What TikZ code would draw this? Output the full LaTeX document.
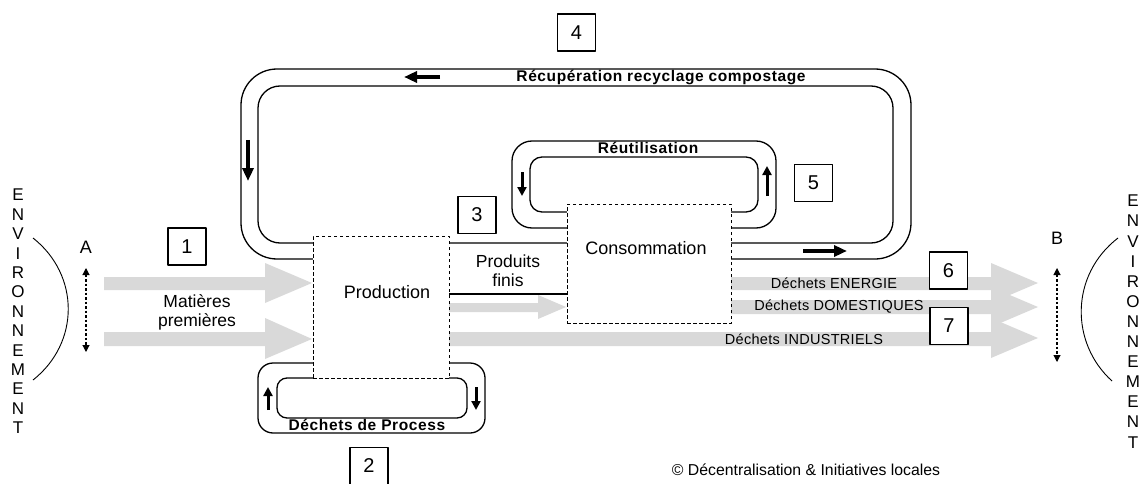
\documentclass[tikz,border=0pt]{standalone}
\usepackage{fontspec}
\setmainfont{Liberation Sans}
\usetikzlibrary{arrows.meta}
\definecolor{flowgray}{RGB}{217,217,217}
\begin{document}
\begin{tikzpicture}[x=1pt,y=-1pt,line join=round,
  loopline/.style={draw=black,line width=1.3pt},
  dashbox/.style={draw=black,fill=white,line width=1pt,dash pattern=on 3.5pt off 2.5pt,inner sep=0pt},
  numbox/.style={draw=black,fill=white,line width=1.1pt,minimum width=38pt,minimum height=37pt,inner sep=0pt,font=\fontsize{20}{22}\selectfont},
  bigflow/.style={line width=4pt,-{Triangle[length=13pt,width=11pt]}},
  smallflow/.style={line width=3pt,-{Triangle[length=9pt,width=9pt]}},
  dotarrow/.style={line width=1.1pt,dash pattern=on 2.5pt off 2pt,{Triangle[length=7pt,width=7pt]}-{Triangle[length=7pt,width=7pt]}},
  boldlbl/.style={inner sep=0pt,font=\fontsize{15.5}{17}\selectfont\bfseries\addfontfeature{LetterSpace=4}},
  wastelbl/.style={inner sep=0pt,font=\fontsize{14.5}{16}\selectfont\addfontfeature{LetterSpace=2}},
  mainlbl/.style={inner sep=0pt,font=\fontsize{18}{20}\selectfont},
  midlbl/.style={inner sep=0pt,font=\fontsize{17.5}{20}\selectfont},
  envtxt/.style={inner sep=0pt,font=\fontsize{17}{19}\selectfont},
  letterlbl/.style={inner sep=0pt,font=\fontsize{18}{20}\selectfont}
]
\useasboundingbox (0,0) rectangle (1140,484);

% ---------- grey material flows ----------
\fill[flowgray] (104,277) -- (265,277) -- (265,263) -- (312,283) -- (265,303) -- (265,290) -- (104,290) -- cycle;
\fill[flowgray] (104,332) -- (265,332) -- (265,318) -- (312,339) -- (265,359) -- (265,346) -- (104,346) -- cycle;
\fill[flowgray] (449,303) -- (538,303) -- (538,295) -- (566,307) -- (538,319) -- (538,312) -- (449,312) -- cycle;
\fill[flowgray] (731,277) -- (991,277) -- (991,263) -- (1038,283) -- (991,303) -- (991,290) -- (731,290) -- cycle;
\fill[flowgray] (731,300) -- (991,300) -- (991,287) -- (1038,307) -- (991,327) -- (991,314) -- (731,314) -- cycle;
\fill[flowgray] (449,332) -- (991,332) -- (991,318) -- (1038,338) -- (991,358) -- (991,346) -- (449,346) -- cycle;

% ---------- big recovery loop ----------
\draw[loopline,rounded corners=36pt] (313,259) -- (241,259) -- (241,69) -- (911,69) -- (911,259) -- (731,259);
\draw[loopline,rounded corners=22pt] (313,243) -- (258,243) -- (258,86) -- (893,86) -- (893,243) -- (449,243);
\draw[loopline] (449,294) -- (567,294);

% ---------- reuse loop ----------
\draw[loopline,rounded corners=20pt] (512,141) rectangle (776,228);
\draw[loopline,rounded corners=12pt] (530,157) rectangle (758,212);

% ---------- process waste loop ----------
\draw[loopline,rounded corners=15pt] (258,363) rectangle (485,433);
\draw[loopline,rounded corners=10pt] (313,378) -- (277,378) -- (277,418) -- (467,418) -- (467,378) -- (449,378);

% ---------- main dashed boxes ----------
\node[dashbox,minimum width=136pt,minimum height=142pt] (prod) at (381,307) {};
\node[dashbox,minimum width=164pt,minimum height=119pt] (conso) at (649,263.5) {};
\node[mainlbl] (prodlbl) at (387,292) {Production};
\node[mainlbl] (consolbl) at (646,248) {Consommation};

% ---------- loop labels ----------
\node[boldlbl] (recup) at (661,77) {Récupération recyclage compostage};
\node[boldlbl] (reut) at (648,148) {Réutilisation};
\node[boldlbl] (procw) at (367,425) {Déchets de Process};

% ---------- flow direction arrows ----------
\coordinate (t1) at (440,77); \coordinate (t2) at (404,77);
\coordinate (l1) at (248,140); \coordinate (l2) at (248,181);
\coordinate (b1) at (803,251); \coordinate (b2) at (847,251);
\draw[bigflow] (t1) -- (t2);
\draw[bigflow] (l1) -- (l2);
\draw[bigflow] (b1) -- (b2);
\coordinate (r1) at (522,172); \coordinate (r2) at (522,196);
\coordinate (r3) at (767,196); \coordinate (r4) at (767,166);
\coordinate (p1) at (268,410); \coordinate (p2) at (268,387);
\coordinate (p3) at (476,387); \coordinate (p4) at (476,410);
\draw[smallflow] (r1) -- (r2);
\draw[smallflow] (r3) -- (r4);
\draw[smallflow] (p1) -- (p2);
\draw[smallflow] (p3) -- (p4);

% ---------- flow texts ----------
\node[midlbl] (mat1) at (197,301) {Matières};
\node[midlbl] (mat2) at (197,322) {premières};
\node[midlbl] (pf1) at (508,261) {Produits};
\node[midlbl] (pf2) at (508,280) {finis};
\node[wastelbl] (wen) at (834,283) {Déchets ENERGIE};
\node[wastelbl] (wdo) at (839,307) {Déchets DOMESTIQUES};
\node[wastelbl] (win) at (804,339) {Déchets INDUSTRIELS};

% ---------- number boxes ----------
\node[numbox] (n1) at (187,246.5) {1};
\node[numbox] (n2) at (369,466) {2};
\node[numbox] (n3) at (477,215) {3};
\node[numbox] (n4) at (576.5,32.5) {4};
\node[numbox] (n5) at (813.5,183) {5};
\node[numbox] (n6) at (948.5,270.5) {6};
\node[numbox] (n7) at (949,326) {7};

% ---------- environment sides ----------
\foreach \l [count=\i from 0] in {E,N,V,I,R,O,N,N,E,M,E,N,T}
  \node[envtxt] (envL\i) at (18,195+19.4*\i) {\l};
\foreach \l [count=\i from 0] in {E,N,V,I,R,O,N,N,E,M,E,N,T}
  \node[envtxt] (envR\i) at (1133,201+20.1*\i) {\l};
\draw[line width=0.9pt] (33,238) .. controls (80,275) and (80,343) .. (33,380);
\draw[line width=0.9pt] (1118,238) .. controls (1070,275) and (1070,343) .. (1112,381);
\node[letterlbl] (A) at (86,247) {A};
\node[letterlbl] (B) at (1057,238) {B};
\coordinate (a1) at (86,268); \coordinate (a2) at (86,352);
\coordinate (b3) at (1057,268); \coordinate (b4) at (1057,362);
\draw[dotarrow] (a1) -- (a2);
\draw[dotarrow] (b3) -- (b4);

\node[inner sep=0pt,font=\fontsize{15.8}{18}\selectfont] (copy) at (806,470) {© Décentralisation \& Initiatives locales};
\end{tikzpicture}
\end{document}
